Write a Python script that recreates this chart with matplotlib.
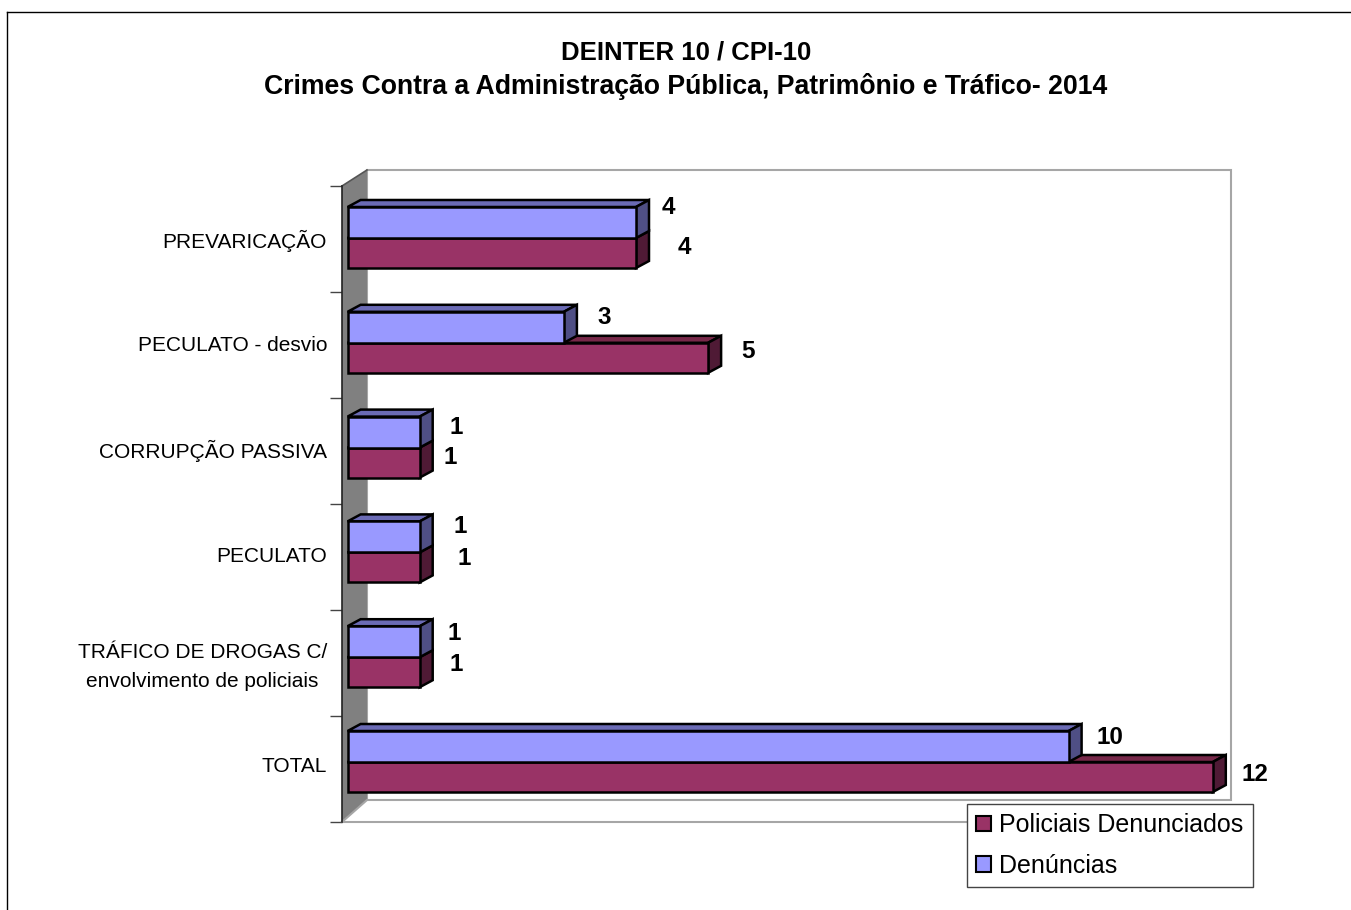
import matplotlib
matplotlib.use("Agg")
import matplotlib.pyplot as plt
from matplotlib.patches import Polygon
from matplotlib.lines import Line2D
import numpy as np

plt.rcParams['font.family'] = ['Liberation Sans', 'DejaVu Sans']

# data, bottom row first
categories = ["TOTAL", "TRÁFICO DE DROGAS C/\nenvolvimento de policiais", "PECULATO",
              "CORRUPÇÃO PASSIVA", "PECULATO - desvio", "PREVARICAÇÃO"]
policiais = [12, 1, 1, 1, 5, 4]
denuncias = [10, 1, 1, 1, 3, 4]
series_names = ["Policiais Denunciados", "Denúncias"]

# label offsets from the bar end, in points (hand placed, like the original)
offs_pol = [(30, 2), (26, 5.6), (32, 6.4), (22, 3.4), (29, 4.4), (35, 4)]
offs_den = [(30, 6.6), (25, 6.6), (29.5, 7.5), (26, 3.7), (29, 7.3), (23.5, 11.4)]

W, H = 1351, 910
fig = plt.figure(figsize=(W / 100, H / 100), dpi=100, facecolor='white')

# outer border, only top and left show
fig.add_artist(Line2D([7 / W, 7 / W], [0, 1 - 12 / H], color='black', lw=1))
fig.add_artist(Line2D([7 / W, 1], [1 - 12 / H, 1 - 12 / H], color='black', lw=1))

fig.text(686 / W, 1 - 52 / H, "DEINTER 10 / CPI-10", ha='center', va='center',
         fontsize=18.5, fontweight='bold')
fig.text(686 / W, 1 - 86.5 / H, "Crimes Contra a Administração Pública, Patrimônio e Tráfico- 2014",
         ha='center', va='center', fontsize=19.2, fontweight='bold')

ax_l, ax_r, ax_t, ax_b = 342, 1205, 186, 822
ax = fig.add_axes([ax_l / W, 1 - ax_b / H, (ax_r - ax_l) / W, (ax_b - ax_t) / H])
ax.patch.set_visible(False)

px_x = 72.1    # px per unit of value
px_y = 106.0   # px per row
ax.set_xlim(-5.6 / px_x, (ax_r - ax_l - 5.6) / px_x)
ax.set_ylim(-0.5, 5.5)

# walls in axes fractions
ww, wh = ax_r - ax_l, ax_b - ax_t
def frac(px, py):
    return (px - ax_l) / ww, (ax_b - py) / wh

ax.add_patch(Polygon([frac(367, 170), frac(1231, 170), frac(1231, 800), frac(367, 800)],
                     closed=True, facecolor='white', edgecolor='#a6a6a6', lw=1.5,
                     transform=ax.transAxes, clip_on=False, zorder=1))
ax.add_patch(Polygon([frac(342, 186), frac(367, 170), frac(367, 800), frac(342, 822)],
                     closed=True, facecolor='#808080', edgecolor='none',
                     transform=ax.transAxes, clip_on=False, zorder=2))
ax.add_artist(Line2D(*zip(frac(342, 822), frac(367, 800)), color='#a6a6a6', lw=1.5,
                     transform=ax.transAxes, clip_on=False, zorder=2))
ax.add_artist(Line2D(*zip(frac(342, 186), frac(367, 170)), color='#555555', lw=1.2,
                     transform=ax.transAxes, clip_on=False, zorder=2))

for s in ['top', 'right']:
    ax.spines[s].set_visible(False)
ax.spines['left'].set_color('#222222')
ax.spines['left'].set_linewidth(1.2)
ax.spines['left'].set_zorder(3)
ax.spines['bottom'].set_color('#a6a6a6')
ax.spines['bottom'].set_linewidth(1.5)
ax.spines['bottom'].set_zorder(1)

ax.set_xticks([])
ax.set_yticks(np.arange(-0.5, 6, 1))
ax.set_yticklabels([])
ax.tick_params(axis='y', which='major', length=8.6, width=1, color='#444444')
ax.set_yticks(0.04 + np.arange(6) * 0.9924, minor=True)
ax.set_yticklabels(categories, minor=True, fontsize=15, linespacing=1.7, ma='center')
ax.tick_params(axis='y', which='minor', length=0, pad=10.8)

# bars: rows sit a bit up and left of the tick midpoints
rows = 0.066 + np.arange(6) * 0.9887
bar_h = 30 / px_y
blue_h = 31 / px_y
dx = 13 / px_x
dy = 7 / px_y

maroon = ('#993366', '#772849', '#4f1a35')
blue = ('#9999ff', '#6b6bb5', '#4f4f85')

def draw_bar(val, bottom, height, cols, zo):
    top = bottom + height
    ax.add_patch(Polygon([(0, top), (dx, top + dy), (val + dx, top + dy), (val, top)],
                         closed=True, facecolor=cols[1], edgecolor='black', lw=1.8,
                         zorder=zo, clip_on=False))
    ax.add_patch(Polygon([(val, bottom), (val + dx, bottom + dy), (val + dx, top + dy), (val, top)],
                         closed=True, facecolor=cols[2], edgecolor='black', lw=1.8,
                         zorder=zo, clip_on=False))

for i in range(6):
    draw_bar(policiais[i], rows[i] - bar_h, bar_h, maroon, 4 + 0.1 * (5 - i))
    draw_bar(denuncias[i], rows[i], blue_h, blue, 4.05 + 0.1 * (5 - i))

b1 = ax.barh(rows - bar_h, policiais, height=bar_h, align='edge', color=maroon[0],
             edgecolor='black', lw=1.8, zorder=5, label=series_names[0], clip_on=False)
b2 = ax.barh(rows, denuncias, height=blue_h, align='edge', color=blue[0],
             edgecolor='black', lw=1.8, zorder=5, label=series_names[1], clip_on=False)

for i in range(6):
    ax.annotate(str(policiais[i]), (policiais[i], rows[i] - bar_h / 2), xytext=offs_pol[i],
                textcoords='offset points', ha='center', va='center',
                fontsize=17.5, fontweight='bold', zorder=8, annotation_clip=False)
    ax.annotate(str(denuncias[i]), (denuncias[i], rows[i] + bar_h / 2), xytext=offs_den[i],
                textcoords='offset points', ha='center', va='center',
                fontsize=17.5, fontweight='bold', zorder=8, annotation_clip=False)

leg = ax.legend(handles=[b1, b2], loc='upper left',
                bbox_to_anchor=(967 / W, 1 - 804 / H), bbox_transform=fig.transFigure,
                frameon=True, fancybox=False, framealpha=1, edgecolor='#444444',
                fontsize=18, handlelength=0.6, handleheight=0.6, handletextpad=0.33,
                labelspacing=0.66, borderpad=0.37, borderaxespad=0)
leg.get_frame().set_linewidth(1)
leg.set_zorder(10)
for p in leg.get_patches():
    p.set_linewidth(1.5)

fig.savefig("out.png", dpi=100)
